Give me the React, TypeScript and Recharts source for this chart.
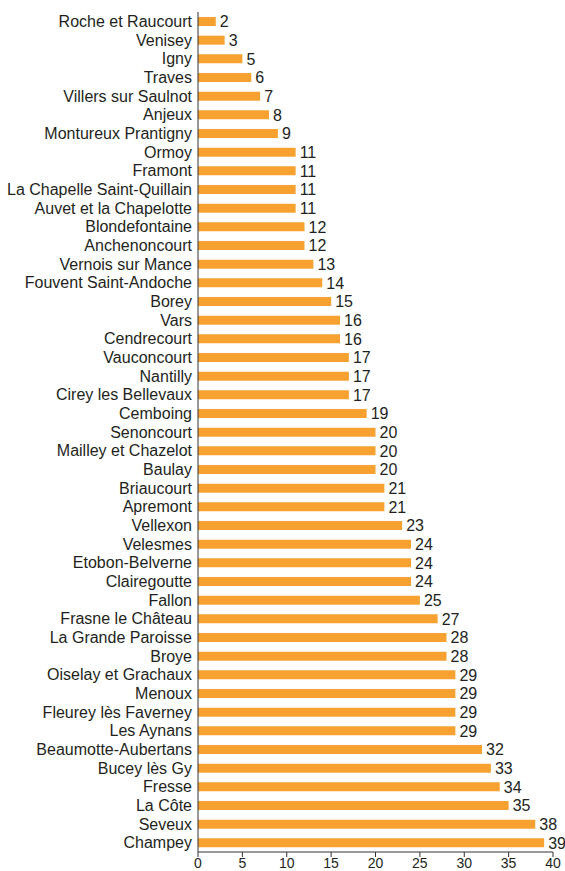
import { BarChart, Bar, XAxis, YAxis, LabelList } from "recharts"

const communes = [
  "Roche et Raucourt", "Venisey", "Igny", "Traves", "Villers sur Saulnot", "Anjeux",
  "Montureux Prantigny", "Ormoy", "Framont", "La Chapelle Saint-Quillain",
  "Auvet et la Chapelotte", "Blondefontaine", "Anchenoncourt", "Vernois sur Mance",
  "Fouvent Saint-Andoche", "Borey", "Vars", "Cendrecourt", "Vauconcourt", "Nantilly",
  "Cirey les Bellevaux", "Cemboing", "Senoncourt", "Mailley et Chazelot", "Baulay",
  "Briaucourt", "Apremont", "Vellexon", "Velesmes", "Etobon-Belverne", "Clairegoutte",
  "Fallon", "Frasne le Château", "La Grande Paroisse", "Broye", "Oiselay et Grachaux",
  "Menoux", "Fleurey lès Faverney", "Les Aynans", "Beaumotte-Aubertans", "Bucey lès Gy",
  "Fresse", "La Côte", "Seveux", "Champey",
]

const counts = [
  2, 3, 5, 6, 7, 8, 9, 11, 11, 11, 11, 12, 12, 13, 14, 15, 16, 16, 17, 17, 17, 19, 20,
  20, 20, 21, 21, 23, 24, 24, 24, 25, 27, 28, 28, 29, 29, 29, 29, 32, 33, 34, 35, 38, 39,
]

const xTicks = [0, 5, 10, 15, 20, 25, 30, 35, 40]

const data = communes.map((name, i) => ({ name, value: counts[i] }))

const textColor = "#231f20"
const font = "'Liberation Sans', Arial, sans-serif"

export default function App() {
  return (
    <div style={{ position: "absolute", left: 0, top: 0, fontFamily: font }}>
      <BarChart
        width={565}
        height={871}
        data={data}
        layout="vertical"
        margin={{ top: 12, right: 12, left: 0, bottom: 0 }}
      >
        <XAxis
          type="number"
          domain={[0, 40]}
          ticks={xTicks}
          height={19}
          tick={{ fill: textColor, fontSize: 14, fontFamily: font }}
          tickLine={{ stroke: "#333" }}
          tickSize={5}
          tickMargin={1}
          axisLine={{ stroke: "#333" }}
        />
        <YAxis
          type="category"
          dataKey="name"
          width={198}
          interval={0}
          tick={{ fill: textColor, fontSize: 16, fontFamily: font }}
          tickLine={false}
          tickMargin={0}
          axisLine={{ stroke: "#333" }}
        />
        <Bar dataKey="value" fill="#f7a130" barSize={9} isAnimationActive={false}>
          <LabelList
            dataKey="value"
            position="right"
            offset={4}
            fill={textColor}
            fontSize={16}
            fontFamily={font}
          />
        </Bar>
      </BarChart>
    </div>
  )
}
